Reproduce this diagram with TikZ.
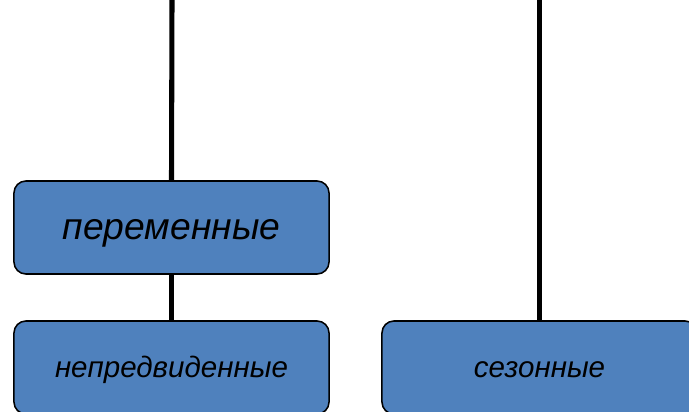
\documentclass[tikz,border=0pt]{standalone}
\usepackage{fontspec}
\setmainfont{Liberation Sans}
\definecolor{boxblue}{RGB}{79,129,189}
\usetikzlibrary{positioning}

\begin{document}
\begin{tikzpicture}[x=0.025cm,y=-0.025cm,
  catbox/.style={draw=black,line width=1.1pt,fill=boxblue,rounded corners=0.3cm,
    minimum width=7.875cm,minimum height=2.325cm,inner sep=0pt,align=center},
  bigtext/.style={font=\fontsize{26.5}{30}\selectfont\itshape,text height=22pt,text depth=5.2pt},
  smalltext/.style={font=\fontsize{21}{25}\selectfont\itshape,text height=18pt,text depth=4.3pt},
  link/.style={line width=3.6pt,black}
]
  \useasboundingbox (0,0) rectangle (689,412);
  \clip (0,0) rectangle (689,412);

  % top ends of the links
  \coordinate (topL) at (172,0);
  \coordinate (topR) at (539.5,0);

  % boxes
  \node[catbox,bigtext] (var) at (171.5,227.5) {переменные};
  \node[catbox,smalltext] (unf) at (171.5,367.5) {непредвиденные};
  \node[catbox,smalltext] (seas) at (539.5,367.5) {сезонные};

  % links
  \draw[link] (topL) -- (var.north);
  \draw[link] (var.south) -- (unf.north);
  \draw[link] (topR) -- (seas.north);
\end{tikzpicture}
\end{document}
